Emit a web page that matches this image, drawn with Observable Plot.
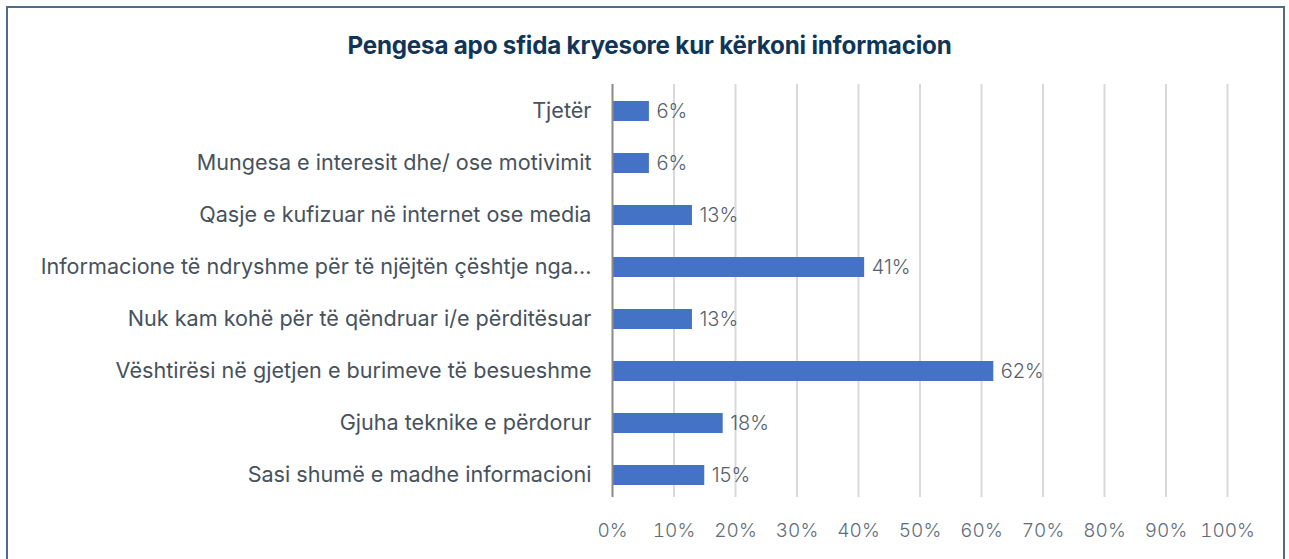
<!DOCTYPE html>
<html><head><meta charset="utf-8">
<script src="https://cdn.jsdelivr.net/npm/d3@7"></script>
<script src="https://cdn.jsdelivr.net/npm/@observablehq/plot@0.6"></script>
<style>
body{margin:0;background:#fff;font-family:Inter,"Noto Sans",sans-serif;}
#wrap{position:relative;width:1289px;height:559px;overflow:hidden;}
#frame{position:absolute;left:6px;top:6px;width:1279px;height:600px;border:2px solid #4f6b88;box-sizing:border-box;}
#title{position:absolute;left:0;top:31px;width:1299px;text-align:center;font-size:24.2px;font-weight:700;color:#0f3559;letter-spacing:-0.2px;}
#chart{position:absolute;left:0;top:0;}
</style></head>
<body><div id="wrap"><div id="frame"></div><div id="title">Pengesa apo sfida kryesore kur kërkoni informacion</div><div id="chart"></div></div>
<script>
const categories = [
  "Tjetër",
  "Mungesa e interesit dhe/ ose motivimit",
  "Qasje e kufizuar në internet ose media",
  "Informacione të ndryshme për të njëjtën çështje nga...",
  "Nuk kam kohë për të qëndruar i/e përditësuar",
  "Vështirësi në gjetjen e burimeve të besueshme",
  "Gjuha teknike e përdorur",
  "Sasi shumë e madhe informacioni"
];
const values = [6, 6, 13, 41, 13, 62, 18, 15];
const xTicks = [0,10,20,30,40,50,60,70,80,90,100];
const data = categories.map((c,i)=>({cat:c, v:values[i]}));

const chart = Plot.plot({
  width: 1289, height: 559,
  marginLeft: 612, marginRight: 62, marginTop: 84, marginBottom: 58,
  style: {fontFamily: "Inter, 'Noto Sans', sans-serif", fontSize: "18px", background: "transparent"},
  x: {domain:[0,100], label:null},
  y: {domain: categories, label:null, paddingInner: 0.62, paddingOuter: 0.31},
  marks: [
    Plot.gridX({ticks: xTicks.filter(d=>d>0), stroke:"#d9d9d9", strokeWidth:2, strokeOpacity:1, insetBottom:4}),
    Plot.barX(data, {x:"v", y:"cat", fill:"#4472c4"}),
    Plot.ruleX([0], {stroke:"#8a8a8a", strokeWidth:2, insetBottom:4}),
    Plot.text(data, {x:"v", y:"cat", text:d=>d.v+"%", textAnchor:"start", dx:7, fill:"#55616c", fontSize:20, fontWeight:300}),
    Plot.axisX({ticks:xTicks, tickFormat:d=>d+"%", tickSize:0, tickPadding:22, fill:"#5f6d7a", fontSize:19, fontWeight:300, label:null}),
    Plot.axisY({tickSize:0, tickPadding:21, fill:"#46525d", fontSize:21.6, label:null})
  ]
});
document.getElementById("chart").appendChild(chart);
</script></body></html>
